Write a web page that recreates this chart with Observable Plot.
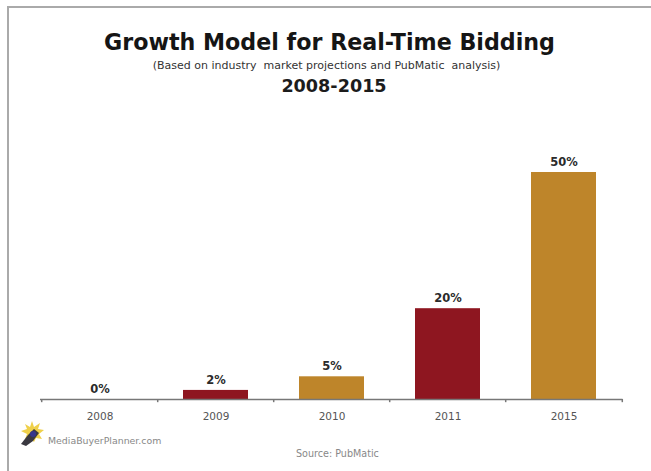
<!DOCTYPE html>
<html>
<head>
<meta charset="utf-8">
<script src="https://cdn.jsdelivr.net/npm/d3@7"></script>
<script src="https://cdn.jsdelivr.net/npm/@observablehq/plot@0.6"></script>
<style>
  html, body { margin: 0; padding: 0; background: #fff; overflow: hidden; }
  #frame { position: absolute; left: 7px; top: 6px; right: 0; bottom: 0; border-left: 2px solid #aaa; border-top: 2px solid #aaa; }
  #chart { position: absolute; left: 0; top: 0; }
  .t { position: absolute; text-align: center; font-family: Verdana, "DejaVu Sans", sans-serif; white-space: nowrap; transform: translateX(-50%); }
  .title { left: 329.5px; top: 29px; font-size: 22.2px; font-weight: bold; color: #151515; }
  .sub { left: 326.5px; top: 59px; font-size: 11px; color: #333; }
  .range { left: 334px; top: 76px; font-size: 17.6px; font-weight: bold; color: #1c1c1c; }
  .brand { position: absolute; left: 48px; top: 435px; font: 9.4px "DejaVu Sans", sans-serif; color: #888; }
  .source { position: absolute; left: 296px; top: 448px; font: 9.6px "DejaVu Sans", sans-serif; color: #888; }
</style>
</head>
<body>
<div id="frame"></div>
<div id="chart"></div>
<div class="t title">Growth Model for Real-Time Bidding</div>
<div class="t sub">(Based on industry&nbsp; market projections and PubMatic&nbsp; analysis)</div>
<div class="t range">2008-2015</div>
<svg style="position:absolute;left:17px;top:421px" width="28" height="26" viewBox="0 0 28 26">
  <polygon points="15,0 17,6 23,2 21,8 27,9 22,13 25,18 19,17 17,21 13,17 8,18 10,13 4,10 10,8 8,3 13,6" fill="#efd04a"/>
  <path d="M4,23 L11,14 L17,8 L22,12 L16,20 L9,25 Z" fill="#3a3840"/>
  <circle cx="16" cy="13" r="3" fill="#34348c"/>
</svg>
<div class="brand">MediaBuyerPlanner.com</div>
<div class="source">Source: PubMatic</div>
<script>
// Projected share of display spend by year
const years = ["2008", "2009", "2010", "2011", "2015"];
const shares = [0, 2, 5, 20, 50];
const barColors = ["#8e1620", "#8e1620", "#be852a", "#8e1620", "#be852a"];
const rows = years.map((year, i) => ({year, share: shares[i], color: barColors[i]}));

// Half a band step: separator ticks sit between the year categories
const halfStep = 58.3;
const tickStyle = {x: d => d, y1: 0, y2: -0.7, stroke: "#777", strokeWidth: 1.5};

const chart = Plot.plot({
  width: 651,
  height: 440,
  marginLeft: 40,
  marginRight: 28.5,
  marginTop: 0,
  marginBottom: 41,
  style: {background: "transparent", overflow: "visible"},
  x: {domain: years, paddingInner: 0.442, paddingOuter: 0.221, label: null},
  y: {domain: [0, 50], range: [399, 172], axis: null},
  marks: [
    Plot.barY(rows, {x: "year", y: "share", fill: d => d.color}),
    Plot.ruleY([0], {stroke: "#777", strokeWidth: 1.5}),
    Plot.ruleX(years, {...tickStyle, dx: -halfStep}),
    Plot.ruleX(years.slice(-1), {...tickStyle, dx: halfStep}),
    Plot.axisX({
      tickSize: 0,
      tickPadding: 13,
      fontSize: 10.5,
      fontFamily: "Verdana, 'DejaVu Sans', sans-serif",
      fill: "#555",
      stroke: "none"
    }),
    Plot.text(rows, {
      x: "year",
      y: "share",
      text: d => d.share + "%",
      dy: -10.5,
      fontSize: 11.5,
      fontWeight: "bold",
      fontFamily: "Verdana, 'DejaVu Sans', sans-serif",
      fill: "#2b2b2b"
    })
  ]
});
document.getElementById("chart").appendChild(chart);
</script>
</body>
</html>
